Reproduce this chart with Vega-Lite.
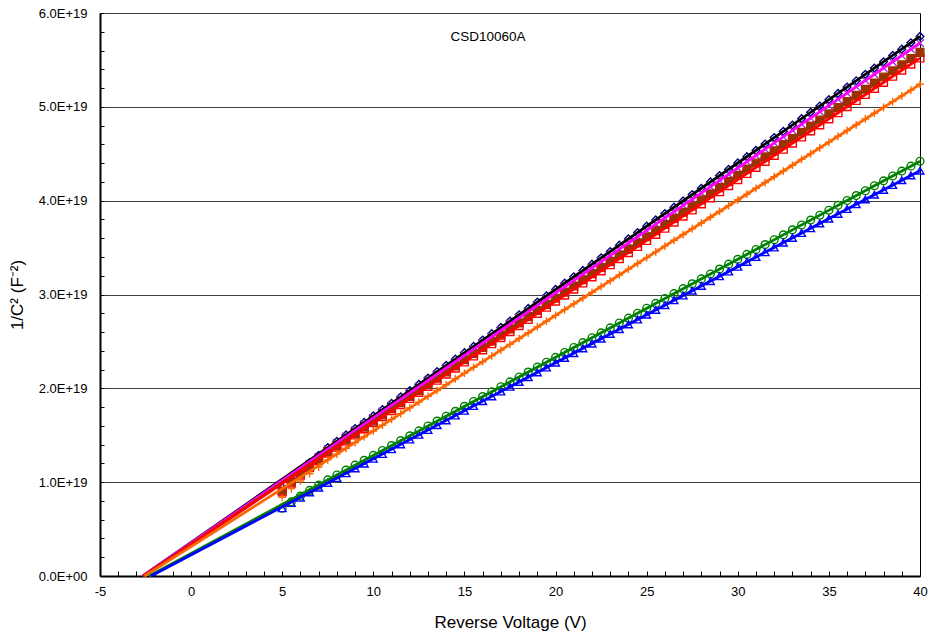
{
  "$schema": "https://vega.github.io/schema/vega-lite/v6.json",
  "width": 820,
  "height": 563,
  "autosize": {"type": "none"},
  "padding": {"left": 100, "top": 13, "right": 13, "bottom": 62},
  "background": "white",
  "title": {"text": "CSD10060A", "fontSize": 13.5, "fontWeight": "normal", "font": "Liberation Sans", "color": "black", "offset": -36, "dx": -22, "anchor": "middle"},
  "config": {
    "view": {"stroke": "black", "strokeWidth": 1},
    "font": "Liberation Sans",
    "axis": {"labelFont": "Liberation Sans", "titleFont": "Liberation Sans", "labelColor": "black", "titleColor": "black", "titleFontWeight": "normal", "domainColor": "black", "domainWidth": 2, "tickColor": "black", "tickWidth": 1}
  },
  "datasets": {
    "fits": [
      {"s": "A", "v": -2.65, "c": 0}, {"s": "A", "v": 40, "c": 5.75e19},
      {"s": "B", "v": -2.65, "c": 0}, {"s": "B", "v": 40, "c": 5.68e19},
      {"s": "C", "v": -2.6, "c": 0}, {"s": "C", "v": 40, "c": 5.58e19},
      {"s": "D", "v": -2.6, "c": 0}, {"s": "D", "v": 40, "c": 5.52e19},
      {"s": "E", "v": -2.55, "c": 0}, {"s": "E", "v": 40, "c": 5.24e19},
      {"s": "F", "v": -2.3, "c": 0}, {"s": "F", "v": 40, "c": 4.42e19},
      {"s": "G", "v": -2.2, "c": 0}, {"s": "G", "v": 40, "c": 4.32e19}
    ],
    "meas": [
      {"v": 5, "A": 0.941e19, "B": 0.929e19, "C": 0.906e19, "D": 0.895e19, "E": 0.840e19, "F": 0.723e19, "G": 0.722e19},
      {"v": 5.5, "A": 1.039e19, "B": 1.025e19, "C": 1.001e19, "D": 0.990e19, "E": 0.931e19, "F": 0.790e19, "G": 0.778e19},
      {"v": 6, "A": 1.126e19, "B": 1.112e19, "C": 1.087e19, "D": 1.074e19, "E": 1.013e19, "F": 0.852e19, "G": 0.834e19},
      {"v": 6.5, "A": 1.209e19, "B": 1.194e19, "C": 1.167e19, "D": 1.154e19, "E": 1.090e19, "F": 0.912e19, "G": 0.891e19},
      {"v": 7, "A": 1.286e19, "B": 1.270e19, "C": 1.243e19, "D": 1.229e19, "E": 1.161e19, "F": 0.968e19, "G": 0.942e19},
      {"v": 7.5, "A": 1.368e19, "B": 1.352e19, "C": 1.323e19, "D": 1.309e19, "E": 1.238e19, "F": 1.024e19, "G": 0.993e19},
      {"v": 8, "A": 1.436e19, "B": 1.418e19, "C": 1.389e19, "D": 1.374e19, "E": 1.299e19, "F": 1.076e19, "G": 1.044e19},
      {"v": 8.5, "A": 1.503e19, "B": 1.485e19, "C": 1.454e19, "D": 1.438e19, "E": 1.361e19, "F": 1.129e19, "G": 1.095e19},
      {"v": 9, "A": 1.571e19, "B": 1.552e19, "C": 1.520e19, "D": 1.503e19, "E": 1.422e19, "F": 1.181e19, "G": 1.147e19},
      {"v": 9.5, "A": 1.638e19, "B": 1.618e19, "C": 1.585e19, "D": 1.568e19, "E": 1.484e19, "F": 1.233e19, "G": 1.198e19},
      {"v": 10, "A": 1.706e19, "B": 1.685e19, "C": 1.651e19, "D": 1.633e19, "E": 1.546e19, "F": 1.285e19, "G": 1.249e19},
      {"v": 10.5, "A": 1.773e19, "B": 1.751e19, "C": 1.716e19, "D": 1.698e19, "E": 1.607e19, "F": 1.337e19, "G": 1.300e19},
      {"v": 11, "A": 1.840e19, "B": 1.818e19, "C": 1.782e19, "D": 1.762e19, "E": 1.669e19, "F": 1.390e19, "G": 1.351e19},
      {"v": 11.5, "A": 1.908e19, "B": 1.885e19, "C": 1.847e19, "D": 1.827e19, "E": 1.730e19, "F": 1.442e19, "G": 1.403e19},
      {"v": 12, "A": 1.975e19, "B": 1.951e19, "C": 1.913e19, "D": 1.892e19, "E": 1.792e19, "F": 1.494e19, "G": 1.454e19},
      {"v": 12.5, "A": 2.043e19, "B": 2.018e19, "C": 1.978e19, "D": 1.957e19, "E": 1.853e19, "F": 1.546e19, "G": 1.505e19},
      {"v": 13, "A": 2.110e19, "B": 2.084e19, "C": 2.043e19, "D": 2.021e19, "E": 1.915e19, "F": 1.599e19, "G": 1.556e19},
      {"v": 13.5, "A": 2.177e19, "B": 2.151e19, "C": 2.109e19, "D": 2.086e19, "E": 1.977e19, "F": 1.651e19, "G": 1.607e19},
      {"v": 14, "A": 2.245e19, "B": 2.218e19, "C": 2.174e19, "D": 2.151e19, "E": 2.038e19, "F": 1.703e19, "G": 1.658e19},
      {"v": 14.5, "A": 2.312e19, "B": 2.284e19, "C": 2.240e19, "D": 2.216e19, "E": 2.100e19, "F": 1.755e19, "G": 1.710e19},
      {"v": 15, "A": 2.380e19, "B": 2.351e19, "C": 2.305e19, "D": 2.281e19, "E": 2.161e19, "F": 1.808e19, "G": 1.761e19},
      {"v": 15.5, "A": 2.447e19, "B": 2.417e19, "C": 2.371e19, "D": 2.345e19, "E": 2.223e19, "F": 1.860e19, "G": 1.812e19},
      {"v": 16, "A": 2.514e19, "B": 2.484e19, "C": 2.436e19, "D": 2.410e19, "E": 2.284e19, "F": 1.912e19, "G": 1.863e19},
      {"v": 16.5, "A": 2.582e19, "B": 2.550e19, "C": 2.502e19, "D": 2.475e19, "E": 2.346e19, "F": 1.964e19, "G": 1.914e19},
      {"v": 17, "A": 2.649e19, "B": 2.617e19, "C": 2.567e19, "D": 2.540e19, "E": 2.408e19, "F": 2.017e19, "G": 1.966e19},
      {"v": 17.5, "A": 2.717e19, "B": 2.684e19, "C": 2.633e19, "D": 2.605e19, "E": 2.469e19, "F": 2.069e19, "G": 2.017e19},
      {"v": 18, "A": 2.784e19, "B": 2.750e19, "C": 2.698e19, "D": 2.669e19, "E": 2.531e19, "F": 2.121e19, "G": 2.068e19},
      {"v": 18.5, "A": 2.851e19, "B": 2.817e19, "C": 2.764e19, "D": 2.734e19, "E": 2.592e19, "F": 2.173e19, "G": 2.119e19},
      {"v": 19, "A": 2.919e19, "B": 2.883e19, "C": 2.829e19, "D": 2.799e19, "E": 2.654e19, "F": 2.226e19, "G": 2.170e19},
      {"v": 19.5, "A": 2.986e19, "B": 2.950e19, "C": 2.895e19, "D": 2.864e19, "E": 2.715e19, "F": 2.278e19, "G": 2.222e19},
      {"v": 20, "A": 3.054e19, "B": 3.017e19, "C": 2.960e19, "D": 2.929e19, "E": 2.777e19, "F": 2.330e19, "G": 2.273e19},
      {"v": 20.5, "A": 3.121e19, "B": 3.083e19, "C": 3.026e19, "D": 2.993e19, "E": 2.839e19, "F": 2.382e19, "G": 2.324e19},
      {"v": 21, "A": 3.189e19, "B": 3.150e19, "C": 3.091e19, "D": 3.058e19, "E": 2.900e19, "F": 2.435e19, "G": 2.375e19},
      {"v": 21.5, "A": 3.256e19, "B": 3.216e19, "C": 3.157e19, "D": 3.123e19, "E": 2.962e19, "F": 2.487e19, "G": 2.426e19},
      {"v": 22, "A": 3.323e19, "B": 3.283e19, "C": 3.222e19, "D": 3.188e19, "E": 3.023e19, "F": 2.539e19, "G": 2.477e19},
      {"v": 22.5, "A": 3.391e19, "B": 3.350e19, "C": 3.288e19, "D": 3.252e19, "E": 3.085e19, "F": 2.591e19, "G": 2.529e19},
      {"v": 23, "A": 3.458e19, "B": 3.416e19, "C": 3.353e19, "D": 3.317e19, "E": 3.146e19, "F": 2.644e19, "G": 2.580e19},
      {"v": 23.5, "A": 3.526e19, "B": 3.483e19, "C": 3.419e19, "D": 3.382e19, "E": 3.208e19, "F": 2.696e19, "G": 2.631e19},
      {"v": 24, "A": 3.593e19, "B": 3.549e19, "C": 3.484e19, "D": 3.447e19, "E": 3.270e19, "F": 2.748e19, "G": 2.682e19},
      {"v": 24.5, "A": 3.660e19, "B": 3.616e19, "C": 3.550e19, "D": 3.512e19, "E": 3.331e19, "F": 2.800e19, "G": 2.733e19},
      {"v": 25, "A": 3.728e19, "B": 3.682e19, "C": 3.615e19, "D": 3.576e19, "E": 3.393e19, "F": 2.853e19, "G": 2.785e19},
      {"v": 25.5, "A": 3.795e19, "B": 3.749e19, "C": 3.681e19, "D": 3.641e19, "E": 3.454e19, "F": 2.905e19, "G": 2.836e19},
      {"v": 26, "A": 3.863e19, "B": 3.816e19, "C": 3.746e19, "D": 3.706e19, "E": 3.516e19, "F": 2.957e19, "G": 2.887e19},
      {"v": 26.5, "A": 3.930e19, "B": 3.882e19, "C": 3.812e19, "D": 3.771e19, "E": 3.578e19, "F": 3.009e19, "G": 2.938e19},
      {"v": 27, "A": 3.997e19, "B": 3.949e19, "C": 3.877e19, "D": 3.836e19, "E": 3.639e19, "F": 3.062e19, "G": 2.989e19},
      {"v": 27.5, "A": 4.065e19, "B": 4.015e19, "C": 3.943e19, "D": 3.900e19, "E": 3.701e19, "F": 3.114e19, "G": 3.041e19},
      {"v": 28, "A": 4.132e19, "B": 4.082e19, "C": 4.008e19, "D": 3.965e19, "E": 3.762e19, "F": 3.166e19, "G": 3.092e19},
      {"v": 28.5, "A": 4.200e19, "B": 4.149e19, "C": 4.074e19, "D": 4.030e19, "E": 3.824e19, "F": 3.218e19, "G": 3.143e19},
      {"v": 29, "A": 4.267e19, "B": 4.215e19, "C": 4.139e19, "D": 4.095e19, "E": 3.885e19, "F": 3.271e19, "G": 3.194e19},
      {"v": 29.5, "A": 4.334e19, "B": 4.282e19, "C": 4.205e19, "D": 4.160e19, "E": 3.947e19, "F": 3.323e19, "G": 3.245e19},
      {"v": 30, "A": 4.402e19, "B": 4.348e19, "C": 4.270e19, "D": 4.224e19, "E": 4.009e19, "F": 3.375e19, "G": 3.296e19},
      {"v": 30.5, "A": 4.469e19, "B": 4.415e19, "C": 4.336e19, "D": 4.289e19, "E": 4.070e19, "F": 3.427e19, "G": 3.348e19},
      {"v": 31, "A": 4.537e19, "B": 4.482e19, "C": 4.401e19, "D": 4.354e19, "E": 4.132e19, "F": 3.480e19, "G": 3.399e19},
      {"v": 31.5, "A": 4.604e19, "B": 4.548e19, "C": 4.467e19, "D": 4.419e19, "E": 4.193e19, "F": 3.532e19, "G": 3.450e19},
      {"v": 32, "A": 4.672e19, "B": 4.615e19, "C": 4.532e19, "D": 4.483e19, "E": 4.255e19, "F": 3.584e19, "G": 3.501e19},
      {"v": 32.5, "A": 4.739e19, "B": 4.681e19, "C": 4.598e19, "D": 4.548e19, "E": 4.316e19, "F": 3.636e19, "G": 3.552e19},
      {"v": 33, "A": 4.806e19, "B": 4.748e19, "C": 4.663e19, "D": 4.613e19, "E": 4.378e19, "F": 3.689e19, "G": 3.604e19},
      {"v": 33.5, "A": 4.874e19, "B": 4.815e19, "C": 4.729e19, "D": 4.678e19, "E": 4.440e19, "F": 3.741e19, "G": 3.655e19},
      {"v": 34, "A": 4.941e19, "B": 4.881e19, "C": 4.794e19, "D": 4.743e19, "E": 4.501e19, "F": 3.793e19, "G": 3.706e19},
      {"v": 34.5, "A": 5.009e19, "B": 4.948e19, "C": 4.860e19, "D": 4.807e19, "E": 4.563e19, "F": 3.845e19, "G": 3.757e19},
      {"v": 35, "A": 5.076e19, "B": 5.014e19, "C": 4.925e19, "D": 4.872e19, "E": 4.624e19, "F": 3.898e19, "G": 3.808e19},
      {"v": 35.5, "A": 5.143e19, "B": 5.081e19, "C": 4.991e19, "D": 4.937e19, "E": 4.686e19, "F": 3.950e19, "G": 3.859e19},
      {"v": 36, "A": 5.211e19, "B": 5.147e19, "C": 5.056e19, "D": 5.002e19, "E": 4.747e19, "F": 4.002e19, "G": 3.911e19},
      {"v": 36.5, "A": 5.278e19, "B": 5.214e19, "C": 5.122e19, "D": 5.067e19, "E": 4.809e19, "F": 4.054e19, "G": 3.962e19},
      {"v": 37, "A": 5.346e19, "B": 5.281e19, "C": 5.187e19, "D": 5.131e19, "E": 4.871e19, "F": 4.106e19, "G": 4.013e19},
      {"v": 37.5, "A": 5.413e19, "B": 5.347e19, "C": 5.253e19, "D": 5.196e19, "E": 4.932e19, "F": 4.159e19, "G": 4.064e19},
      {"v": 38, "A": 5.480e19, "B": 5.414e19, "C": 5.318e19, "D": 5.261e19, "E": 4.994e19, "F": 4.211e19, "G": 4.115e19},
      {"v": 38.5, "A": 5.548e19, "B": 5.480e19, "C": 5.384e19, "D": 5.326e19, "E": 5.055e19, "F": 4.263e19, "G": 4.167e19},
      {"v": 39, "A": 5.615e19, "B": 5.547e19, "C": 5.449e19, "D": 5.391e19, "E": 5.117e19, "F": 4.315e19, "G": 4.218e19},
      {"v": 39.5, "A": 5.683e19, "B": 5.614e19, "C": 5.515e19, "D": 5.455e19, "E": 5.178e19, "F": 4.368e19, "G": 4.269e19},
      {"v": 40, "A": 5.750e19, "B": 5.680e19, "C": 5.580e19, "D": 5.520e19, "E": 5.240e19, "F": 4.420e19, "G": 4.320e19}
    ]
  },
  "encoding": {
    "x": {
      "field": "v", "type": "quantitative",
      "scale": {"domain": [-5, 40], "nice": false, "zero": false},
      "axis": {
        "title": "Reverse Voltage (V)", "titleFontSize": 17, "titlePadding": 16,
        "values": [-5,-4,-3,-2,-1,0,1,2,3,4,5,6,7,8,9,10,11,12,13,14,15,16,17,18,19,20,21,22,23,24,25,26,27,28,29,30,31,32,33,34,35,36,37,38,39,40],
        "labelExpr": "datum.value % 5 == 0 ? replace(datum.label, '\u2212', '-') : ''",
        "labelFontSize": 13, "tickSize": -5, "labelPadding": 14.5, "grid": false, "labelFlush": false, "labelOverlap": false
      }
    },
    "y": {
      "field": "c", "type": "quantitative",
      "scale": {"domain": [0, 6e19], "nice": false},
      "axis": {
        "title": "1/C² (F⁻²)", "titleFontSize": 17, "titlePadding": 12,
        "values": [0,2e18,4e18,6e18,8e18,1e19,1.2e19,1.4e19,1.6e19,1.8e19,2e19,2.2e19,2.4e19,2.6e19,2.8e19,3e19,3.2e19,3.4e19,3.6e19,3.8e19,4e19,4.2e19,4.4e19,4.6e19,4.8e19,5e19,5.2e19,5.4e19,5.6e19,5.8e19,6e19],
        "labelExpr": "datum.value % 1e19 == 0 ? (datum.value == 0 ? '0.0E+00' : upper(format(datum.value, '.1e'))) : ''",
        "labelFontSize": 13, "tickSize": -4, "labelPadding": 17, "labelOverlap": false, "labelFlush": false,
        "grid": true, "gridColor": "#404040", "gridWidth": 1,
        "gridOpacity": {"condition": {"test": "datum.value % 1e19 == 0", "value": 1}, "value": 0}
      }
    }
  },
  "layer": [
    {
      "data": {"name": "meas"},
      "transform": [{"fold": ["A", "B", "C", "D", "E", "F", "G"], "as": ["s", "c"]}],
      "mark": {"type": "point", "filled": false, "strokeWidth": 1.4, "size": 60, "opacity": 1},
      "encoding": {
        "color": {"field": "s", "type": "nominal", "legend": null,
          "scale": {"domain": ["A","B","C","D","E","F","G"], "range": ["#000080","#9933CC","#993300","#FF0000","#FF6600","#008000","#0000FF"]}},
        "shape": {"field": "s", "type": "nominal", "legend": null,
          "scale": {"domain": ["A","B","C","D","E","F","G"], "range": ["diamond","M-1,-1L1,1M-1,1L1,-1","square","square","M-1,0H1M0,-1V1","circle","triangle-up"]}}
      }
    },
    {
      "data": {"name": "meas"},
      "transform": [{"fold": ["C"], "as": ["s", "c"]}],
      "mark": {"type": "point", "filled": true, "shape": "square", "size": 55, "color": "#993300", "opacity": 1},
      "encoding": {}
    },
    {
      "data": {"name": "fits"},
      "mark": {"type": "line", "strokeWidth": 2.8},
      "encoding": {
        "detail": {"field": "s", "type": "nominal"},
        "stroke": {"field": "s", "type": "nominal", "legend": null,
          "scale": {"domain": ["A","B","C","D","E","F","G"], "range": ["#000000","#FF00FF","#993300","#FF0000","#FF6600","#008000","#0000FF"]}}
      }
    }
  ]
}
